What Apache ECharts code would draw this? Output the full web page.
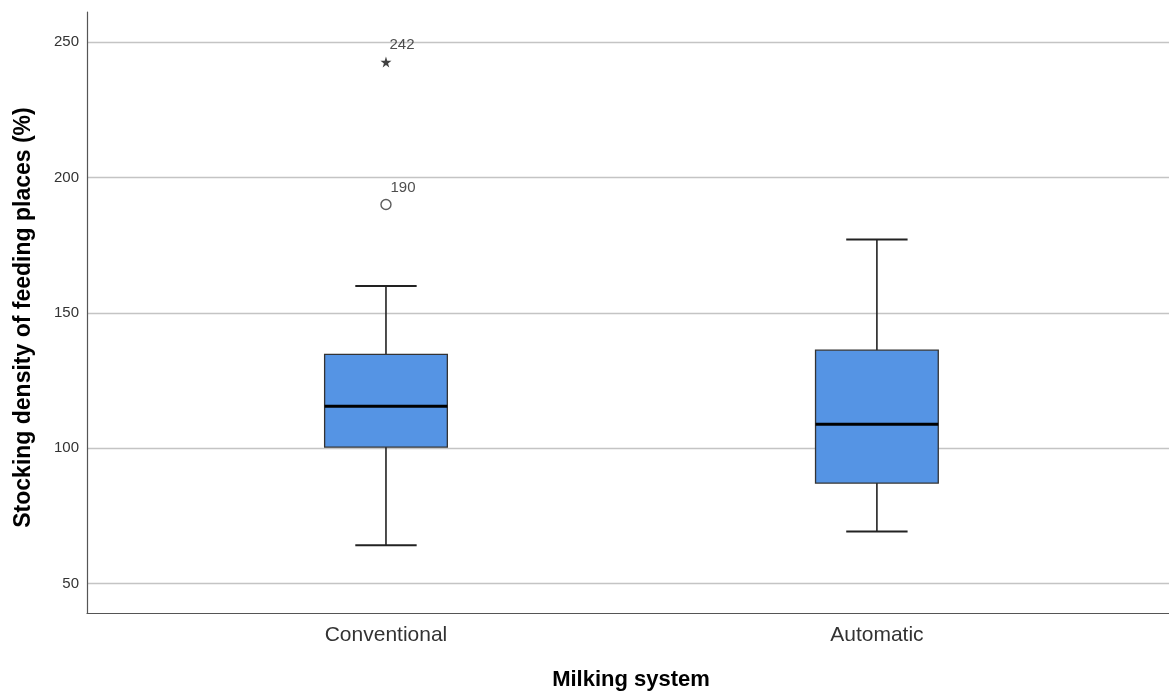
<!DOCTYPE html>
<html>
<head>
<meta charset="utf-8">
<script src="https://cdn.jsdelivr.net/npm/echarts@6/dist/echarts.min.js"></script>
<style>html,body{margin:0;padding:0;background:#fff}#c{width:1169px;height:698px}</style>
</head>
<body>
<div id="c"></div>
<script>
// ---- data ----
var categories = ['Conventional', 'Automatic'];
var categoryPos = [1, 2];
var whiskerLow = [64.1, 69.2];
var q1 = [100.4, 87.1];
var median = [115.5, 108.8];
var q3 = [134.6, 136.2];
var whiskerHigh = [159.9, 177.1];
var outlierCat = [1, 1];
var outlierVal = [190.0, 242.6];
var outlierKind = ['circle', 'star'];
var outlierLabel = ['190', '242'];
var yTicks = [50, 100, 150, 200, 250];

var FONT = '"Liberation Sans", Arial, sans-serif';
var STAR = 'path://M50,0 L61,35 L98,35 L68,57 L79,91 L50,70 L21,91 L32,57 L2,35 L39,35 Z';

var boxData = categoryPos.map(function (p, i) {
  return [p, whiskerLow[i], q1[i], median[i], q3[i], whiskerHigh[i]];
});
var outData = outlierVal.map(function (v, i) {
  var star = outlierKind[i] === 'star';
  return {
    value: [outlierCat[i], v],
    symbol: star ? STAR : 'circle',
    symbolSize: star ? 11 : 10,
    itemStyle: star ? {color: '#111', borderWidth: 0} : {color: '#fff', borderColor: '#333', borderWidth: 1.4},
    label: {formatter: outlierLabel[i], offset: star ? [16, -17] : [17, -17]}
  };
});

var chart = echarts.init(document.getElementById('c'));
chart.setOption({
  animation: false,
  backgroundColor: '#fff',
  grid: {left: 87, right: 0, top: 12, bottom: 85},
  xAxis: {
    type: 'value', min: 0.391, max: 2.595,
    name: 'Milking system', nameLocation: 'middle', nameGap: 56,
    nameTextStyle: {fontFamily: FONT, fontSize: 22, fontWeight: 'bold', color: '#000', padding: [0, 0, 0, 6]},
    axisLine: {show: true, onZero: false, lineStyle: {color: '#555', width: 1.2}},
    axisTick: {show: false, customValues: categoryPos},
    splitLine: {show: false},
    axisLabel: {
      customValues: categoryPos, margin: 12,
      fontFamily: FONT, fontSize: 21, color: '#333',
      formatter: function (v) { var i = categoryPos.indexOf(v); return i >= 0 ? categories[i] : ''; }
    }
  },
  yAxis: {
    type: 'value', min: 39.1, max: 261.1,
    name: 'Stocking density of feeding places (%)', nameLocation: 'middle', nameGap: 52,
    nameTextStyle: {fontFamily: FONT, fontSize: 23, fontWeight: 'bold', color: '#000', padding: [0, 10, 0, 0]},
    axisLine: {show: true, lineStyle: {color: '#555', width: 1.2}},
    axisTick: {show: false, customValues: yTicks},
    axisLabel: {customValues: yTicks, margin: 8, fontFamily: FONT, fontSize: 15, color: '#333'},
    splitLine: {show: true, lineStyle: {color: '#c4c4c4', width: 1.3}}
  },
  series: [
    {
      type: 'custom',
      data: boxData,
      encode: {x: 0, y: [1, 2, 3, 4, 5]},
      renderItem: function (params, api) {
        var x = api.value(0);
        var unit = api.size([1, 0])[0];
        var bw = unit * 0.25, cw = unit * 0.125;
        var pLo = api.coord([x, api.value(1)]);
        var pQ1 = api.coord([x, api.value(2)]);
        var pMd = api.coord([x, api.value(3)]);
        var pQ3 = api.coord([x, api.value(4)]);
        var pHi = api.coord([x, api.value(5)]);
        var cx = pMd[0];
        var ls = {stroke: '#222', lineWidth: 1.6};
        return {
          type: 'group',
          children: [
            {type: 'line', shape: {x1: cx, y1: pQ3[1], x2: cx, y2: pHi[1]}, style: ls},
            {type: 'line', shape: {x1: cx, y1: pQ1[1], x2: cx, y2: pLo[1]}, style: ls},
            {type: 'line', shape: {x1: cx - cw / 2, y1: pHi[1], x2: cx + cw / 2, y2: pHi[1]}, style: {stroke: '#222', lineWidth: 2}},
            {type: 'line', shape: {x1: cx - cw / 2, y1: pLo[1], x2: cx + cw / 2, y2: pLo[1]}, style: {stroke: '#222', lineWidth: 2}},
            {type: 'rect', shape: {x: cx - bw / 2, y: pQ3[1], width: bw, height: pQ1[1] - pQ3[1]},
              style: {fill: '#5594e4', stroke: '#333', lineWidth: 1.3}},
            {type: 'line', shape: {x1: cx - bw / 2, y1: pMd[1], x2: cx + bw / 2, y2: pMd[1]}, style: {stroke: '#000', lineWidth: 3}}
          ]
        };
      },
      z: 3
    },
    {
      type: 'scatter',
      data: outData,
      label: {show: true, position: 'inside', fontFamily: FONT, fontSize: 15, color: '#222'},
      z: 4
    }
  ]
});
</script>
</body>
</html>
